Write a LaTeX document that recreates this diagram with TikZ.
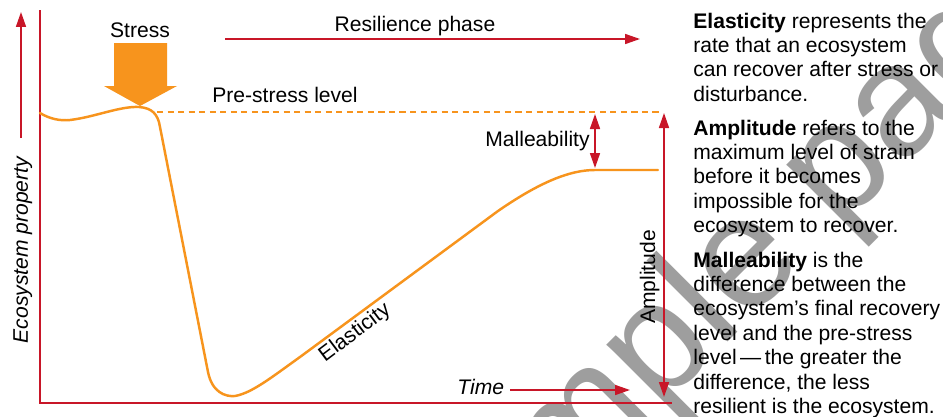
\documentclass[tikz,border=0pt]{standalone}
\usepackage{fontspec}
\setmainfont{Liberation Sans}
\usetikzlibrary{arrows.meta}
\definecolor{axred}{RGB}{200,22,40}
\definecolor{curveor}{RGB}{247,148,29}
\definecolor{wmgray}{RGB}{158,158,158}
\begin{document}
\begin{tikzpicture}[x=0.02cm,y=-0.02cm,
  lbl/.style={font=\fontsize{12}{14}\selectfont, inner sep=0pt},
  para/.style={font=\fontsize{12}{13.94}\selectfont, inner sep=0pt, anchor=base west},
  axis/.style={draw=axred, line width=1.1pt},
  redline/.style={draw=axred, line width=0.9pt},
  tip/.style={-{Triangle[length=3mm,width=2mm]}},
  dtip/.style={{Triangle[length=3mm,width=2mm]}-{Triangle[length=3mm,width=2mm]}},
  curve/.style={draw=curveor, line width=1.4pt, line cap=round, line join=round},
  prelevel/.style={draw=curveor, line width=0.7pt, dash pattern=on 3.5pt off 2.5pt}]
\useasboundingbox (0,0) rectangle (943,416);
\fill[white] (0,0) rectangle (943,416);
% watermark
\begin{scope}
\clip (0,0) rectangle (943,416);
\node[rotate=45, anchor=base west, text=wmgray, font=\fontsize{90}{90}\selectfont, inner sep=0pt] (wm) at (428,642) {Sample page};
\end{scope}
% axes
\coordinate (ytop) at (40,10);
\coordinate (orig) at (40,403);
\coordinate (xend) at (672,403);
\draw[axis] (ytop) -- (orig) -- (xend);
% y-axis arrow and label
\coordinate (ya0) at (21,138);
\coordinate (ya1) at (21,12);
\draw[redline, tip] (ya0) -- (ya1);
\node[lbl, rotate=90, anchor=base, font=\fontsize{12}{14}\selectfont\itshape] (ylab) at (28,250) {Ecosystem property};
% stress arrow
\fill[curveor] (114,43) -- (167,43) -- (167,86) -- (177,86) -- (140,106) -- (104,86) -- (114,86) -- cycle;
\node[lbl, anchor=base] (stress) at (140,37) {Stress};
% resilience phase
\node[lbl, anchor=base] (res) at (415,31) {Resilience phase};
\coordinate (r0) at (225,39);
\coordinate (r1) at (640,39);
\draw[redline, tip] (r0) -- (r1);
% pre-stress level
\node[lbl, anchor=base west] (pre) at (212,102) {Pre-stress level};
\coordinate (p0) at (157,112);
\coordinate (p1) at (662,112);
\draw[prelevel] (p0) -- (p1);
% curve
\draw[curve] (40,113) .. controls (50,119) and (60,121) .. (70,120)
  .. controls (95,117) and (120,106) .. (139,107)
  .. controls (152,108) and (158,114) .. (160,127)
  -- (208,372) .. controls (212,392) and (225,397) .. (235,396)
  .. controls (252,393) and (272,377) .. (300,357)
  -- (498,211) .. controls (540,182) and (570,170) .. (595,170) -- (658,170);
\node[lbl, rotate=37] (ela) at (355,333) {Elasticity};
% malleability
\coordinate (m0) at (595,114);
\coordinate (m1) at (595,168);
\draw[redline, dtip] (m0) -- (m1);
\node[lbl, anchor=base east] (mal) at (590,146) {Malleability};
% amplitude
\coordinate (a0) at (664,113);
\coordinate (a1) at (664,397);
\draw[redline, dtip] (a0) -- (a1);
\node[lbl, rotate=90, anchor=base] (amp) at (655,277) {Amplitude};
% time
\node[lbl, anchor=base west, font=\fontsize{12}{14}\selectfont\itshape] (time) at (457,394) {Time};
\coordinate (t0) at (510,390);
\coordinate (t1) at (630,390);
\draw[redline, tip] (t0) -- (t1);
% right text
\node[para] (pe) at (693,28) {\parbox[t]{7cm}{\fontsize{12}{13.94}\selectfont\textbf{Elasticity} represents the\\rate that an ecosystem\\can recover after stress or\\disturbance.}};
\node[para] (pa) at (693,135) {\parbox[t]{7cm}{\fontsize{12}{13.94}\selectfont\textbf{Amplitude} refers to the\\maximum level of strain\\before it becomes\\impossible for the\\ecosystem to recover.}};
\node[para] (pm) at (693,267) {\parbox[t]{7cm}{\fontsize{12}{13.94}\selectfont\textbf{Malleability} is the\\difference between the\\ecosystem’s final recovery\\level and the pre-stress\\level\,—\,the greater the\\difference, the less\\resilient is the ecosystem.}};
\end{tikzpicture}
\end{document}
